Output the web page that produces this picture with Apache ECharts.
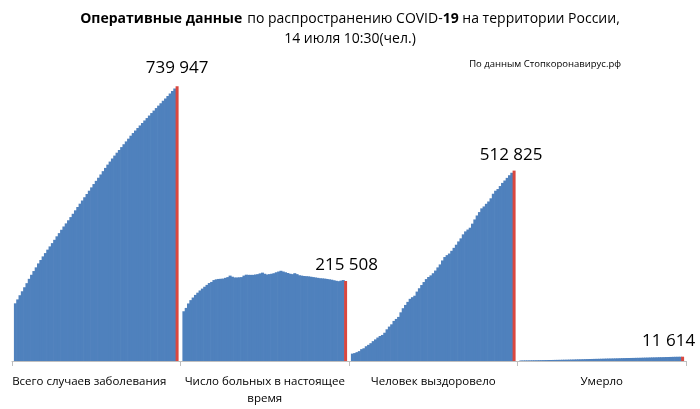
<!DOCTYPE html>
<html><head><meta charset="utf-8">
<script src="https://cdn.jsdelivr.net/npm/echarts@6/dist/echarts.min.js"></script>
<style>html,body{margin:0;padding:0;background:#fff}#c{width:700px;height:409px}</style>
</head><body><div id="c"></div>
<script>
const categories = ['Всего случаев заболевания', 'Число больных в настоящее\nвремя', 'Человек выздоровело', 'Умерло'];

// daily values, 5 May – 14 July
const totalCases = [155370,165929,177160,187859,198676,209688,221344,232243,242271,252245,262843,272043,281752,290678,299941,308705,317554,326448,335882,344481,353427,362342,370680,379051,387623,396575,405843,414878,423741,432277,441108,449834,458689,467673,476658,485253,493657,502436,511423,520129,528964,537210,545458,553301,561091,568292,576162,583879,591465,598878,606881,613994,620794,627646,634437,641156,647849,654405,661165,667883,674515,681251,687862,694230,700792,707301,713936,720547,727162,733699,739947];
const activeCases = [134000,143000,155000,164000,171000,178000,184000,190000,195000,200000,205000,210000,213000,218000,220000,221000,221500,222000,224000,226000,230000,227000,225000,225000,225500,226000,230000,232500,232000,232000,232000,233000,234000,236000,238000,235000,233000,234000,235000,236500,239000,241000,243000,241000,239000,237000,235000,234000,236500,234000,231000,230000,229000,228500,228000,227000,226000,225000,224000,223000,222500,222000,221000,220000,219000,217500,216000,215000,216500,218000,215508];
const recovered = [19865,21327,23803,26608,31916,34306,39801,43512,48003,53530,58226,63166,67373,70209,76130,85392,92681,98825,107936,113299,118798,131129,142208,150993,159257,167469,171883,175877,186985,195957,204623,212680,220642,226272,230688,236463,243606,252140,260138,270847,280050,285169,289463,296784,304801,313238,322107,330351,341153,349102,354103,359051,369964,381317,392017,401098,411153,416328,423429,429698,438226,450548,458624,463201,471218,479711,486121,493255,500404,507051,512825];
const deaths = [1451,1537,1625,1723,1827,1915,2009,2116,2212,2305,2418,2537,2631,2722,2837,2972,3099,3249,3388,3541,3633,3807,3968,4142,4374,4555,4693,4855,5037,5215,5384,5520,5717,5859,5971,6142,6358,6532,6705,6829,6948,7091,7284,7478,7660,7841,8002,8111,8206,8359,8513,8605,8781,8969,9152,9306,9536,9683,9859,10027,10188,10296,10478,10667,10843,11017,11188,11335,11439,11520,11614];

const FONT = "'Open Sans', sans-serif";
const n = totalCases.length;
const fmt = v => String(v).replace(/\B(?=(\d{3})+(?!\d))/g, ' ');
const labelShift = [0, 1, -3, -14];
const series = [];
for (let i = 0; i < n; i++) {
  const last = i === n - 1;
  const col = last ? '#d9473f' : '#4f81bd';
  const vals = [totalCases[i], activeCases[i], recovered[i], deaths[i]];
  series.push({
    type: 'bar',
    name: 'd' + i,
    data: last ? vals.map((v, k) => ({ value: v, label: { offset: [labelShift[k], k === 0 ? -3 : 0] } })) : vals,
    barWidth: 3,
    barGap: '-23%',
    silent: true,
    z: last ? 3 : 2,
    itemStyle: { color: col },
    label: last ? {
      show: true, position: 'top', distance: 7,
      color: '#000', fontSize: 17, fontFamily: FONT,
      formatter: p => fmt(p.value)
    } : { show: false }
  });
}

const catData = categories.map((c, k) => k === 0 ? { value: c, textStyle: { padding: [0, 14, 0, 0] } } : c);

const chart = echarts.init(document.getElementById('c'), null, { renderer: 'canvas' });
chart.setOption({
  animation: false,
  backgroundColor: '#fff',
  title: [{
    text: '{b|Оперативные данные} {n|по распространению COVID-}{b|19}{n| на территории России,}\n{n|14 июля 10:30(чел.)}',
    left: 'center', top: 4,
    textStyle: {
      fontWeight: 'normal',
      rich: {
        b: { fontFamily: FONT, fontSize: 14, fontWeight: 'bold', color: '#000', lineHeight: 20 },
        n: { fontFamily: FONT, fontSize: 14, fontWeight: 'normal', color: '#000', lineHeight: 20 }
      }
    }
  }, {
    text: 'По данным Стопкоронавирус.рф',
    right: 74, top: 54,
    textStyle: { fontFamily: FONT, fontSize: 9.5, fontWeight: 'normal', color: '#000' }
  }],
  grid: { left: 12, right: 14, top: 64, bottom: 48, containLabel: false },
  xAxis: {
    type: 'category',
    data: catData,
    axisLine: { lineStyle: { color: '#bfbfbf', width: 1 } },
    axisTick: { show: true, length: 5, lineStyle: { color: '#bfbfbf' } },
    axisLabel: { color: '#000', fontFamily: FONT, fontSize: 11.5, margin: 12, lineHeight: 17, interval: 0 }
  },
  yAxis: { type: 'value', min: 0, max: 800000, show: false, splitLine: { show: false } },
  series: series
});
</script></body></html>
